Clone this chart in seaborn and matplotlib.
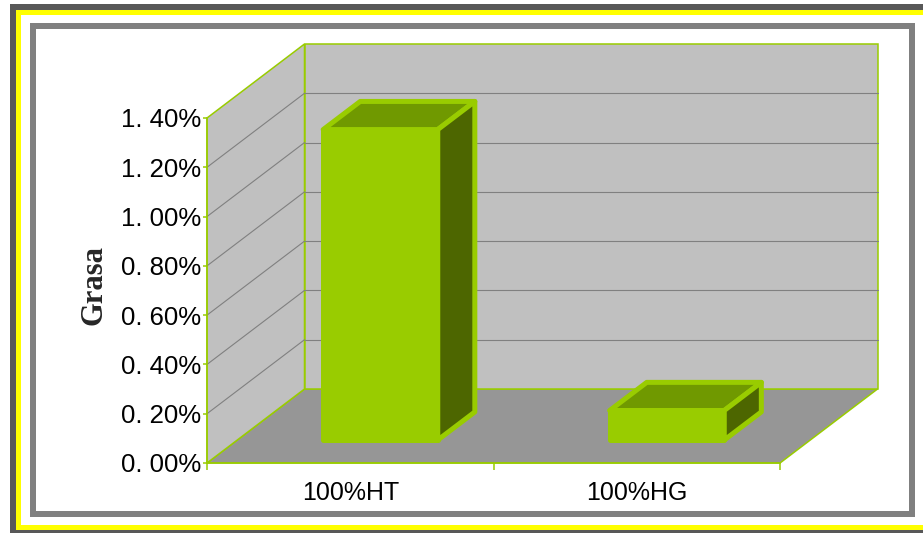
import matplotlib
matplotlib.use("Agg")
import matplotlib.pyplot as plt
import seaborn as sns
from matplotlib.patches import Rectangle, Polygon
from matplotlib.transforms import Affine2D
from matplotlib.ticker import FuncFormatter, FixedLocator

# --- data -------------------------------------------------------------
categories = ["100%HT", "100%HG"]
grasa = [1.26, 0.12]            # fat content, percent
y_ticks = [0.0, 0.2, 0.4, 0.6, 0.8, 1.0, 1.2, 1.4]

# --- style ------------------------------------------------------------
LIME = "#99CC00"
TOP = "#709900"
SIDE = "#4D6600"
WALL = "#C0C0C0"
FLOOR = "#969696"
GRID = "#808080"

sns.set_theme(style="white")
plt.rcParams["font.family"] = ["Liberation Sans", "DejaVu Sans"]

W, H = 923, 533
fig = plt.figure(figsize=(W / 100, H / 100), dpi=100)
fig.patch.set_facecolor("white")


def frame_rect(x0, y0, x1, y1, color, z):
    fig.add_artist(Rectangle((x0 / W, 1 - y1 / H), (x1 - x0) / W, (y1 - y0) / H,
                             transform=fig.transFigure, facecolor=color,
                             edgecolor="none", zorder=z))


# layered border around the chart area
frame_rect(10, 4, 950, 560, "#585858", -10)
frame_rect(16, 10, 945, 530, "#FFFF00", -9)
frame_rect(21, 15, 940, 525, "white", -8)
frame_rect(30, 23, 915, 517, "#808080", -7)
frame_rect(36, 29, 909, 511, "white", -6)

# front plane of the 3-D plot
ax_l, ax_b, ax_w, ax_h = 207, 463, 573, 345   # pixels (left, bottom-from-top, w, h)
ax = fig.add_axes([ax_l / W, (H - ax_b) / H, ax_w / W, ax_h / H])
ax.patch.set_visible(False)

XMIN, XMAX = -0.5, 1.5
YMAX = 1.4
# depth vector of the box, converted from pixels to data units
DX = 97.5 / (ax_w / (XMAX - XMIN))
DY = 74.0 / (ax_h / YMAX)

# bars (front faces) via seaborn
sns.barplot(x=categories, y=grasa, width=0.40, color=LIME, saturation=1,
            errorbar=None, ax=ax, zorder=3, edgecolor=LIME, linewidth=3.6)
bar_patches = list(ax.patches)

ax.set_xlim(XMIN, XMAX)
ax.set_ylim(0, YMAX)
ax.autoscale(False)

# walls and floor
wall_kw = dict(edgecolor=LIME, linewidth=1.1, clip_on=False, zorder=0.5)
ax.add_patch(Polygon([(XMIN, 0), (XMAX, 0), (XMAX + DX, DY), (XMIN + DX, DY)],
                     facecolor=FLOOR, **wall_kw))
ax.add_patch(Polygon([(XMIN, 0), (XMIN, YMAX), (XMIN + DX, YMAX + DY), (XMIN + DX, DY)],
                     facecolor=WALL, **wall_kw))
ax.add_patch(Polygon([(XMIN + DX, DY), (XMAX + DX, DY), (XMAX + DX, YMAX + DY),
                      (XMIN + DX, YMAX + DY)], facecolor=WALL, **wall_kw))

# gridlines on the left wall and back wall
for v in y_ticks[1:-1]:
    ax.plot([XMIN, XMIN + DX], [v, v + DY], color=GRID, lw=0.8, clip_on=False, zorder=0.6)
    ax.plot([XMIN + DX, XMAX + DX], [v + DY, v + DY], color=GRID, lw=0.8,
            clip_on=False, zorder=0.6)

# extrude each bar into a box sitting mid-depth
F0, F1 = 0.31, 0.69
BD = F1 - F0
for p in bar_patches:
    shift = Affine2D().translate(F0 * DX, F0 * DY) + ax.transData
    p.set_transform(shift)
    p.set_joinstyle("round")
    p.set_clip_on(False)
    x0, w, h = p.get_x(), p.get_width(), p.get_height()
    x1 = x0 + w
    top = Polygon([(x0, h), (x1, h), (x1 + BD * DX, h + BD * DY), (x0 + BD * DX, h + BD * DY)],
                  facecolor=TOP, edgecolor=LIME, linewidth=3.6, joinstyle="round",
                  transform=shift, clip_on=False, zorder=3.1)
    side = Polygon([(x1, 0), (x1, h), (x1 + BD * DX, h + BD * DY), (x1 + BD * DX, BD * DY)],
                   facecolor=SIDE, edgecolor=LIME, linewidth=3.6, joinstyle="round",
                   transform=shift, clip_on=False, zorder=3.1)
    ax.add_patch(top)
    ax.add_patch(side)

# axes: spines, ticks, labels
for s in ("top", "right"):
    ax.spines[s].set_visible(False)
for s in ("left", "bottom"):
    ax.spines[s].set_color(LIME)
    ax.spines[s].set_linewidth(1.1)
    ax.spines[s].set_zorder(2)

ax.yaxis.set_major_locator(FixedLocator(y_ticks))
ax.yaxis.set_major_formatter(FuncFormatter(lambda v, _: f"{v:.2f}%".replace(".", ". ")))
ax.tick_params(axis="y", left=True, color=LIME, labelcolor="black", length=2.9,
               width=1.1, pad=1, labelsize=18.5)

ax.set_xticks([0, 1], categories)
ax.set_xticks([-0.5, 0.5, 1.5], minor=True)
ax.tick_params(axis="x", which="major", length=0, pad=13, labelsize=18, labelcolor="black")
ax.tick_params(axis="x", which="minor", bottom=True, length=5, width=1.1, color=LIME)

ax.set_xlabel("")
ax.set_ylabel("Grasa", fontfamily="Liberation Serif", fontweight="bold", fontsize=22)
ax.yaxis.set_label_coords((94 - ax_l) / ax_w, (ax_b - 285) / ax_h)
ax.yaxis.label.set_verticalalignment("center")

fig.savefig("out.png", dpi=100)
